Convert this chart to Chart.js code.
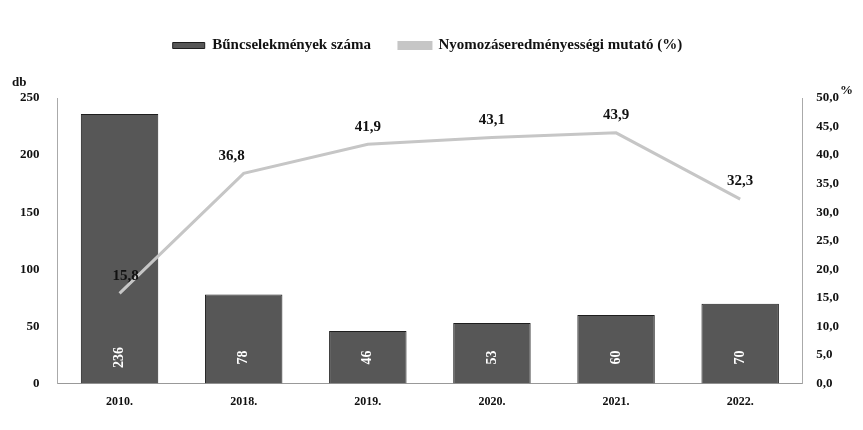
<!DOCTYPE html>
<html>
<head>
<meta charset="utf-8">
<script src="https://cdn.jsdelivr.net/npm/chart.js@4.4.1/dist/chart.umd.min.js"></script>
<style>
  body { margin: 0; background: #fff; }
  #wrap { width: 863px; height: 430px; }
</style>
</head>
<body>
<div id="wrap"><canvas id="bunChart"></canvas></div>
<script>
const years = ['2010.', '2018.', '2019.', '2020.', '2021.', '2022.'];
const crimeCounts = [236, 78, 46, 53, 60, 70];
const clearanceRate = [15.8, 36.8, 41.9, 43.1, 43.9, 32.3];
const countTicks = [0, 50, 100, 150, 200, 250];
const rateTicks = [0, 5, 10, 15, 20, 25, 30, 35, 40, 45, 50];

const serif = '"Liberation Serif", "DejaVu Serif", serif';
const fmt = v => v.toFixed(1).replace('.', ',');

// push the plot down below the legend
const legendGap = {
    id: 'legendGap',
    beforeInit(chart) {
        const origFit = chart.legend.fit;
        chart.legend.fit = function () {
            origFit.bind(chart.legend)();
            this.height += 35;
        };
    }
};

// value labels: counts rotated inside bars, rates above the line points
const valueLabels = {
    id: 'valueLabels',
    afterDatasetsDraw(chart) {
        const ctx = chart.ctx;
        ctx.save();
        ctx.font = 'bold 14px ' + serif;
        const bars = chart.getDatasetMeta(0).data;
        bars.forEach((bar, i) => {
            ctx.save();
            ctx.translate(bar.x, bar.base - 26);
            ctx.rotate(-Math.PI / 2);
            ctx.fillStyle = '#fff';
            ctx.textAlign = 'center';
            ctx.textBaseline = 'middle';
            ctx.fillText(crimeCounts[i], 0, 0);
            ctx.restore();
        });
        ctx.font = 'bold 15px ' + serif;
        ctx.fillStyle = '#111';
        ctx.textAlign = 'center';
        ctx.textBaseline = 'bottom';
        const pts = chart.getDatasetMeta(1).data;
        pts.forEach((p, i) => {
            const dx = i === 0 ? 6 : (i === 1 ? -12 : 0);
            ctx.fillText(fmt(clearanceRate[i]), p.x + dx, p.y - 10);
        });
        // axis unit titles
        ctx.font = 'bold 13px ' + serif;
        ctx.textBaseline = 'alphabetic';
        ctx.textAlign = 'left';
        ctx.fillText('db', 12, 86);
        ctx.fillText('%', 840, 94);
        ctx.restore();
    }
};

new Chart(document.getElementById('bunChart'), {
    type: 'bar',
    data: {
        labels: years,
        datasets: [{
            label: 'Bűncselekmények száma',
            data: crimeCounts,
            yAxisID: 'y',
            backgroundColor: '#575757',
            borderColor: '#1e1e1e',
            borderWidth: 1,
            barPercentage: 0.78,
            categoryPercentage: 0.8,
            order: 2
        }, {
            type: 'line',
            label: 'Nyomozáseredményességi mutató (%)',
            data: clearanceRate,
            yAxisID: 'y1',
            borderColor: '#c6c6c6',
            backgroundColor: '#c6c6c6',
            borderWidth: 3,
            pointRadius: 0,
            tension: 0,
            order: 1
        }]
    },
    options: {
        responsive: true,
        maintainAspectRatio: false,
        animation: false,
        layout: { padding: { left: 10, right: 18, top: 10, bottom: 18 } },
        plugins: {
            legend: {
                position: 'top',
                labels: {
                    font: { family: serif, size: 15, weight: 'bold' },
                    color: '#111',
                    boxWidth: 32,
                    boxHeight: 6,
                    padding: 28,
                    sort: (a, b) => a.datasetIndex - b.datasetIndex
                }
            },
            tooltip: { enabled: false }
        },
        scales: {
            x: {
                grid: { display: false },
                border: { display: true, color: '#999' },
                ticks: { font: { family: serif, size: 12, weight: 'bold' }, color: '#111' }
            },
            y: {
                position: 'left',
                min: 0,
                max: 250,
                afterBuildTicks: axis => { axis.ticks = countTicks.map(v => ({ value: v })); },
                grid: { display: false },
                border: { display: true, color: '#aaa', dash: [2, 4] },
                ticks: { font: { family: serif, size: 13, weight: 'bold' }, color: '#111', padding: 10 }
            },
            y1: {
                position: 'right',
                min: 0,
                max: 50,
                afterBuildTicks: axis => { axis.ticks = rateTicks.map(v => ({ value: v })); },
                grid: { display: false },
                border: { display: true, color: '#aaa', dash: [2, 4] },
                ticks: {
                    font: { family: serif, size: 13, weight: 'bold' },
                    color: '#111',
                    padding: 6,
                    callback: v => fmt(v)
                }
            }
        }
    },
    plugins: [legendGap, valueLabels]
});
</script>
</body>
</html>
